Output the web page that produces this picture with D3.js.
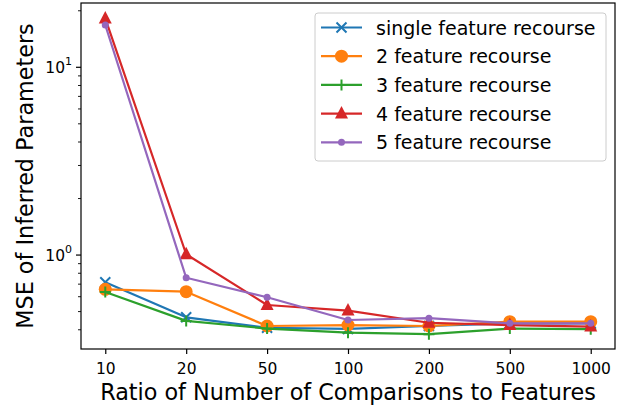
<!DOCTYPE html>
<html>
<head>
<meta charset="utf-8">
<script src="https://cdn.jsdelivr.net/npm/d3@7"></script>
<style>
  body { margin: 0; background: #fff; }
  text { font-family: "DejaVu Sans", sans-serif; fill: #000; }
</style>
</head>
<body>
<div id="chart"></div>
<script>
let ratios = ["10", "20", "50", "100", "200", "500", "1000"];

let single_feature = [0.716, 0.466, 0.410, 0.404, 0.419, 0.433, 0.433];
let two_feature = [0.657, 0.638, 0.419, 0.424, 0.419, 0.442, 0.442];
let three_feature = [0.636, 0.446, 0.406, 0.386, 0.379, 0.406, 0.403];
let four_feature = [18.2, 1.01, 0.542, 0.506, 0.436, 0.424, 0.416];
let five_feature = [16.8, 0.757, 0.596, 0.451, 0.461, 0.433, 0.433];

let series_names = [
	"single feature recourse",
	"2 feature recourse",
	"3 feature recourse",
	"4 feature recourse",
	"5 feature recourse",
];

let width = 622;
let height = 409;
let margin = { top: 3, right: 7, bottom: 60, left: 81 };

let colors = ["#1f77b4", "#ff7f0e", "#2ca02c", "#d62728", "#9467bd"];
let markers = ["x", "circle", "plus", "triangle", "dot"];

let series = [single_feature, two_feature, three_feature, four_feature, five_feature].map(
	(vals, i) => ({
		name: series_names[i],
		color: colors[i],
		marker: markers[i],
		values: vals.map((v, j) => ({ ratio: ratios[j], mse: v })),
	}),
);

let x = d3
	.scalePoint()
	.domain(ratios)
	.range([margin.left, width - margin.right])
	.padding(0.3);

let y = d3
	.scaleLog()
	.domain([0.316, 22])
	.range([height - margin.bottom, margin.top]);

let svg = d3
	.select("#chart")
	.append("svg")
	.attr("width", width)
	.attr("height", height);

// draw a marker shape centred on 0,0
function drawMarker(g, type, color) {
	if (type == "x") {
		g.append("path")
			.attr("d", "M-5,-5L5,5M-5,5L5,-5")
			.attr("stroke", color)
			.attr("stroke-width", 2)
			.attr("fill", "none");
	} else if (type == "plus") {
		g.append("path")
			.attr("d", "M-5.5,0L5.5,0M0,-5.5L0,5.5")
			.attr("stroke", color)
			.attr("stroke-width", 2)
			.attr("fill", "none");
	} else if (type == "circle") {
		g.append("circle").attr("r", 6.5).attr("fill", color);
	} else if (type == "dot") {
		g.append("circle").attr("r", 3.5).attr("fill", color);
	} else if (type == "triangle") {
		g.append("path")
			.attr("d", "M0,-7.5L6.5,5L-6.5,5Z")
			.attr("fill", color);
	}
}

let plot = svg.append("g");

let line = d3
	.line()
	.x((d) => x(d.ratio))
	.y((d) => y(d.mse));

series.forEach((s) => {
	let g = plot.append("g");
	g.append("path")
		.datum(s.values)
		.attr("d", line)
		.attr("fill", "none")
		.attr("stroke", s.color)
		.attr("stroke-width", 2.2)
		.attr("stroke-linejoin", "round");
	s.values.forEach((d) => {
		let m = g
			.append("g")
			.attr("transform", `translate(${x(d.ratio)},${y(d.mse)})`);
		drawMarker(m, s.marker, s.color);
	});
});

// frame
svg.append("rect")
	.attr("x", margin.left)
	.attr("y", margin.top)
	.attr("width", width - margin.left - margin.right)
	.attr("height", height - margin.top - margin.bottom)
	.attr("fill", "none")
	.attr("stroke", "#000")
	.attr("stroke-width", 1.2);

let tick_font = "15.5px";

// x axis
let x_axis = svg
	.append("g")
	.attr("transform", `translate(0,${height - margin.bottom})`)
	.call(d3.axisBottom(x).tickSizeInner(5).tickSizeOuter(0).tickPadding(8.7));
x_axis.select(".domain").remove();
x_axis.selectAll("text").style("font-size", tick_font).attr("fill", "#000");
x_axis.selectAll("line").attr("stroke", "#000").attr("stroke-width", 1.2);

// y axis, major and minor ticks
let major_ticks = [1, 10];
let minor_ticks = [0.4, 0.5, 0.6, 0.7, 0.8, 0.9, 2, 3, 4, 5, 6, 7, 8, 9, 20];

let y_axis = svg.append("g");
y_axis.selectAll(".major")
	.data(major_ticks)
	.enter()
	.append("line")
	.attr("x1", margin.left - 5)
	.attr("x2", margin.left)
	.attr("y1", (d) => y(d))
	.attr("y2", (d) => y(d))
	.attr("stroke", "#000")
	.attr("stroke-width", 1.2);
y_axis.selectAll(".minor")
	.data(minor_ticks)
	.enter()
	.append("line")
	.attr("x1", margin.left - 3)
	.attr("x2", margin.left)
	.attr("y1", (d) => y(d))
	.attr("y2", (d) => y(d))
	.attr("stroke", "#000")
	.attr("stroke-width", 0.9);

let y_labels = y_axis
	.selectAll(".ylabel")
	.data(major_ticks)
	.enter()
	.append("text")
	.attr("x", margin.left - 9)
	.attr("y", (d) => y(d) + 5.6)
	.attr("text-anchor", "end")
	.style("font-size", tick_font);
y_labels.append("tspan").text("10");
y_labels
	.append("tspan")
	.attr("dy", -7.5)
	.style("font-size", "11px")
	.text((d) => (d == 1 ? "0" : "1"));

// axis titles
svg.append("text")
	.attr("x", (margin.left + width - margin.right) / 2)
	.attr("y", 399.5)
	.attr("text-anchor", "middle")
	.style("font-size", "22.3px")
	.text("Ratio of Number of Comparisons to Features");

svg.append("text")
	.attr("transform", `translate(33,${(margin.top + height - margin.bottom) / 2}) rotate(-90)`)
	.attr("text-anchor", "middle")
	.style("font-size", "22.3px")
	.text("MSE of Inferred Parameters");

// legend
let legend = svg.append("g").attr("transform", "translate(315,13)");
legend
	.append("rect")
	.attr("width", 291)
	.attr("height", 148)
	.attr("rx", 3)
	.attr("fill", "#fff")
	.attr("fill-opacity", 0.8)
	.attr("stroke", "#ccc");

let row_height = 28.7;
series.forEach((s, i) => {
	let row = legend
		.append("g")
		.attr("transform", `translate(0,${14.5 + i * row_height})`);
	row.append("line")
		.attr("x1", 6)
		.attr("x2", 47)
		.attr("stroke", s.color)
		.attr("stroke-width", 2.2);
	let m = row.append("g").attr("transform", "translate(26.5,0)");
	drawMarker(m, s.marker, s.color);
	row.append("text")
		.attr("x", 61)
		.attr("y", 7)
		.style("font-size", "19px")
		.text(s.name);
});
</script>
</body>
</html>
